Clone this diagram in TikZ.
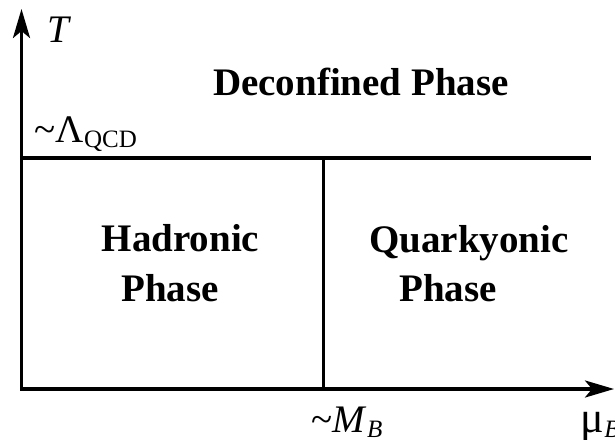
\documentclass[tikz,border=0pt]{standalone}
\usepackage{fontspec}
\setmainfont{Liberation Serif}
\usetikzlibrary{arrows.meta}
\newcommand{\subsc}[1]{\raisebox{-5pt}{\fontsize{25}{30}\selectfont #1}}
\begin{document}
\begin{tikzpicture}[x=1pt,y=-1pt, line width=3.4pt,
  tip/.style={Stealth[length=29pt,width=17pt,inset=7pt]},
  lbl/.style={inner sep=0pt, anchor=base, font=\fontsize{39}{47}\selectfont},
  bl/.style={lbl, font=\fontsize{39}{47}\selectfont\bfseries}]
\useasboundingbox (0,0) rectangle (615,439);
\coordinate (O) at (21.5,389);
\coordinate (Ytip) at (21.5,9);
\coordinate (Xtip) at (614,389);
\coordinate (L) at (21.5,158);
\coordinate (R) at (591,158);
\coordinate (Vt) at (323.5,158);
\coordinate (Vb) at (323.5,389);
\draw[{Stealth[length=29pt,width=17pt,inset=7pt]}-{Stealth[length=29pt,width=17pt,inset=7pt]}, line join=miter] (Ytip) -- (O) -- (Xtip);
\draw (L) -- (R);
\draw (Vt) -- (Vb);
\node[lbl, anchor=base west] (T) at (46,42) {\textit{T}};
\node[lbl, anchor=base west] (Lam) at (33,142) {\textasciitilde Λ\subsc{QCD}};
\node[lbl, anchor=base west] (MB) at (310,432) {\textasciitilde\textit{M}\subsc{\textit{B}}};
\node[lbl, anchor=base west] (mu) at (579,432) {\fontsize{44}{47}\selectfont μ\subsc{\textit{B}}};
\node[bl] (dec) at (361,95) {Deconfined Phase};
\node[bl] (had1) at (180.5,251) {Hadronic};
\node[bl] (had2) at (170,301) {Phase};
\node[bl] (qua1) at (469,252) {Quarkyonic};
\node[bl] (qua2) at (448,301) {Phase};
\end{tikzpicture}
\end{document}
